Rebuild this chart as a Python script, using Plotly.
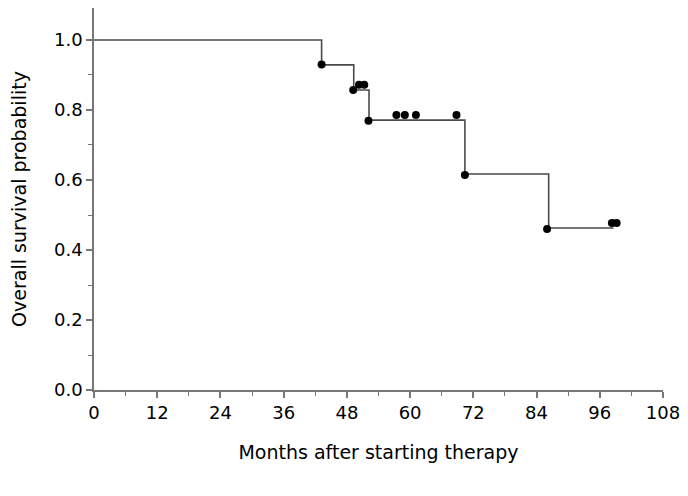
import plotly.graph_objects as go

# Kaplan-Meier step data (months, survival probability)
step_times = [0, 43.2, 49.3, 52.2, 70.4, 86.3, 98.6]
step_surv = [1.0, 0.929, 0.857, 0.771, 0.617, 0.463, 0.463]

# Event dots (at the drops)
event_times = [43.2, 49.2, 52.1, 70.4, 86.0]
event_surv = [0.930, 0.857, 0.769, 0.614, 0.460]

# Censored marks
cens_times = [50.3, 51.3, 57.4, 59.0, 61.1, 68.8, 98.3, 99.2]
cens_surv = [0.872, 0.872, 0.786, 0.786, 0.786, 0.786, 0.477, 0.477]

x_ticks = [0, 12, 24, 36, 48, 60, 72, 84, 96, 108]
y_ticks = [0.0, 0.2, 0.4, 0.6, 0.8, 1.0]

FONT = "DejaVu Sans"

fig = go.Figure()
fig.add_trace(go.Scatter(
    x=step_times, y=step_surv, mode="lines", line_shape="hv",
    line=dict(color="#4a4a4a", width=1.6), showlegend=False, hoverinfo="skip"))
fig.add_trace(go.Scatter(
    x=event_times, y=event_surv, mode="markers",
    marker=dict(color="black", size=8), showlegend=False))
fig.add_trace(go.Scatter(
    x=cens_times, y=cens_surv, mode="markers",
    marker=dict(color="black", size=8), showlegend=False))

fig.update_layout(
    width=672, height=470,
    margin=dict(l=86, r=13, t=0, b=88),
    paper_bgcolor="white", plot_bgcolor="white",
    font=dict(family=FONT, size=18, color="black"),
    xaxis=dict(
        range=[0, 108], tickvals=x_ticks, ticktext=[str(v) for v in x_ticks],
        showline=True, linecolor="#777777", linewidth=1.5,
        ticks="outside", ticklen=6, tickcolor="#777777", tickwidth=1.5,
        minor=dict(dtick=6, ticks="outside", ticklen=4, tickcolor="#777777", tickwidth=1.2),
        showgrid=False, zeroline=False, ticklabeloverflow="allow",
        title=dict(text="Months after starting therapy", standoff=23,
                   font=dict(family=FONT, size=19)),
        tickfont=dict(family=FONT, size=18),
    ),
    yaxis=dict(
        range=[0, 1.0914], tickvals=y_ticks, ticktext=[f"{v:.1f}" for v in y_ticks],
        showline=True, linecolor="#777777", linewidth=1.5,
        ticks="outside", ticklen=6, tickcolor="#777777", tickwidth=1.5,
        minor=dict(dtick=0.1, ticks="outside", ticklen=4, tickcolor="#777777", tickwidth=1.2),
        showgrid=False, zeroline=False,
        title=dict(text="Overall survival probability", standoff=22,
                   font=dict(family=FONT, size=19)),
        tickfont=dict(family=FONT, size=18),
    ),
)

fig.write_html("out.html")
